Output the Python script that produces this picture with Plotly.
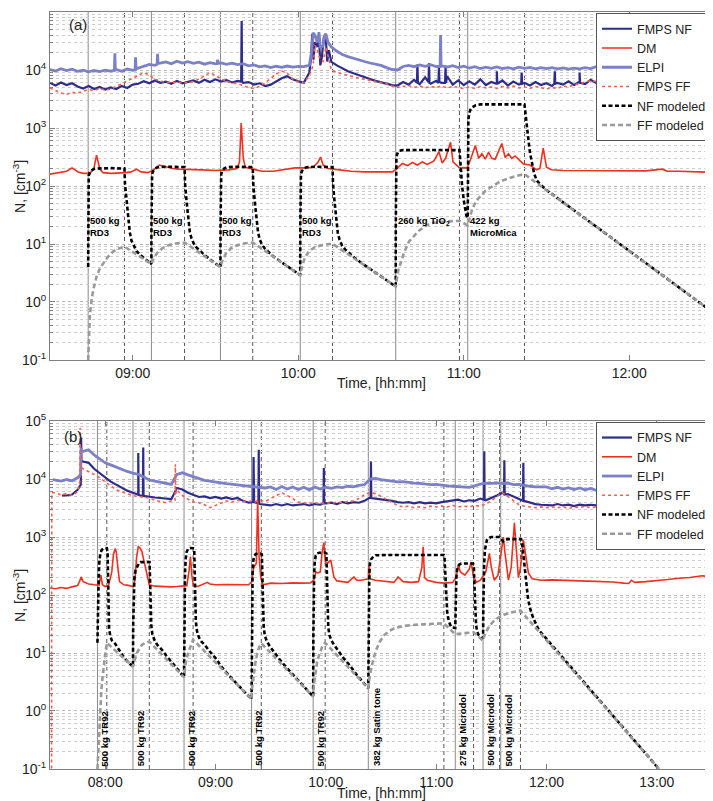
import plotly.graph_objects as go

# ------------------------------------------------------------------
# Time is in decimal hours.  Measured series are read on a regular grid
# (top panel every 2 min from 08:30, bottom panel every 3 min from 07:30)
# plus extra points (spikes / starts).
# ------------------------------------------------------------------
TOP_GRID_START, TOP_GRID_STEP_MIN = 8.5, 2
BOT_GRID_START, BOT_GRID_STEP_MIN = 7.5, 3

TOP_TICK_HOURS = [9, 10, 11, 12]
TOP_TICK_LABELS = ["09:00", "10:00", "11:00", "12:00"]
BOT_TICK_HOURS = [8, 9, 10, 11, 12, 13]
BOT_TICK_LABELS = ["08:00", "09:00", "10:00", "11:00", "12:00", "13:00"]
Y_TICK_VALUES = [0.1, 1, 10, 100, 1000, 10000, 100000]
Y_TICK_LABELS = ["10<sup>-1</sup>", "10<sup>0</sup>", "10<sup>1</sup>", "10<sup>2</sup>",
                 "10<sup>3</sup>", "10<sup>4</sup>", "10<sup>5</sup>"]

# ---------------- panel (a) events ----------------
TOP_EVENT_START = [8.7307, 9.1127, 9.530, 10.012, 10.589, 11.024]
TOP_EVENT_END = [8.950, 9.313, 9.725, 10.207, 10.974, 11.367]
TOP_EVENT_LABELS = ["500 kg<br>RD3", "500 kg<br>RD3", "500 kg<br>RD3", "500 kg<br>RD3",
                    "260 kg TiO<sub>2</sub>", "422 kg<br>MicroMica"]

# ---------------- panel (b) events ----------------
BOT_EVENT_START = [7.930, 8.252, 8.715, 9.327, 9.885, 10.385, 11.173, 11.425, 11.585]
BOT_EVENT_END = [8.015, 8.400, 8.797, 9.415, 9.994, 11.070, 11.339, 11.575, 11.764]
BOT_EVENT_LABELS = ["500 kg TR92", "500 kg TR92", "500 kg TR92", "500 kg TR92", "500 kg TR92",
                    "382 kg Satin tone", "275 kg Microdol", "500 kg Microdol", "500 kg Microdol"]

# ---------------- panel (a) measured ----------------
ELPI_TOP = [10200, 9600, 10500, 9800, 10300, 9500,
            9900, 9300, 9800, 9400, 9900,
            9600, 10200, 9500, 10400, 9900,
            10800, 11500, 12500, 12000, 13200,
            13800, 12800, 14200, 13200, 13900,
            13000, 13600, 12600, 13400, 12800,
            13300, 12500, 13100, 12400, 12900,
            11800, 12200, 11300, 11800, 11000,
            11600, 11100, 11700, 11200, 11500,
            11400, 12000, 40000, 24000, 42000,
            25000, 21000, 18500, 17000, 15800,
            14800, 14000, 13200, 12600, 12000,
            11000, 10200, 10000, 11500, 12000,
            11400, 12200, 11600, 12300, 11500,
            11800, 11200, 11900, 11000, 11600,
            10800, 11400, 10600, 11200, 10700,
            11300, 10600, 11000, 10500, 11200,
            10700, 11100, 10500, 11000, 10600,
            11000, 10500, 10900, 10400, 10800,
            10500, 11000, 10600, 11400, 10800,
            11200, 10700, 11300, 10900, 11500,
            11000, 11800, 11200, 12000, 11500,
            12200, 11600, 12400, 11800, 12300,
            11900, 12500, 12000, 12600, 12200]
ELPI_TOP_EXTRA_T = [8.889, 8.892, 8.895, 9.014, 9.017, 9.020, 9.147, 9.150, 9.153, 9.510, 9.513, 9.516,
                    10.080, 10.090, 10.115, 10.125, 10.150, 10.160, 10.180, 10.857, 10.860, 10.863]
ELPI_TOP_EXTRA_V = [10000, 19500, 10000, 10000, 16600, 10500, 12500, 19000, 13000, 13000, 15000, 13000,
                    20000, 44000, 30000, 45000, 26000, 40000, 30000, 11500, 40000, 11500]

FMPS_NF_TOP = [6000, 5400, 6100, 5500, 5900, 5200,
               4800, 5300, 4700, 5100, 4600,
               5000, 4700, 5300, 4900, 5600,
               5800, 6400, 5900, 6600, 6000,
               6300, 5800, 6500, 5900, 6200,
               6600, 6000, 6800, 6200, 6900,
               6300, 6700, 6100, 6500, 6000,
               6200, 5600, 5900, 5300, 5600,
               6400, 7200, 7800, 6900, 6400,
               6000, 9000, 30000, 12000, 35000,
               13800, 12000, 10500, 9500, 8800,
               8100, 7400, 7000, 6500, 6100,
               5700, 5500, 5400, 6200, 5600,
               6800, 5700, 7500, 5800, 6500,
               6000, 7800, 5600, 6600, 5500,
               6400, 5600, 6900, 5500, 6200,
               5700, 6600, 5400, 6300, 5600,
               6000, 5400, 6200, 5500, 5900,
               5300, 6000, 5600, 6400, 5500,
               6300, 5700, 6800, 6000, 7000,
               6200, 6600, 5900, 6300, 5600,
               6100, 5500, 6000, 5700, 6300,
               6000, 6700, 6200, 6900, 6400,
               7000, 6500, 7300, 6800, 7200]
FMPS_NF_TOP_EXTRA_T = [9.655, 9.658, 9.661,
                       10.075, 10.085, 10.092, 10.115, 10.125, 10.142, 10.155, 10.175, 10.185,
                       10.717, 10.720, 10.723, 10.787, 10.790, 10.793, 10.847, 10.850, 10.853,
                       10.887, 10.890, 10.893, 11.197, 11.200, 11.203, 11.347, 11.350, 11.353,
                       11.547, 11.550, 11.553, 11.697, 11.700, 11.703]
FMPS_NF_TOP_EXTRA_V = [6300, 70000, 6200,
                       14000, 42000, 15000, 25000, 40000, 16000, 38000, 14000, 22000,
                       6000, 12500, 6000, 6200, 13000, 6000, 6000, 11000, 6200,
                       6000, 12000, 6000, 5800, 9500, 5800, 5800, 9000, 5800,
                       5800, 9500, 5800, 6200, 9000, 6000]

FMPS_FF_TOP = [4900, 4400, 4000, 3800, 4100, 4000,
               4300, 4600, 4400, 4800, 4500,
               4700, 5200, 5800, 6500, 7200,
               8000, 9000, 8200, 7000, 6400,
               6200, 6000, 6300, 5900, 6100,
               6300, 7000, 8000, 9000, 8000,
               7000, 6300, 6000, 5800, 5400,
               5000, 4800, 5200, 6000, 7200,
               8500, 9600, 8800, 7000, 6200,
               6000, 8000, 27000, 15000, 25000,
               10000, 9000, 8500, 8000, 7500,
               7200, 6900, 6600, 6400, 6200,
               5800, 5300, 5000, 5200, 5400,
               5000, 5300, 4900, 5200, 5000,
               5300, 4900, 5200, 5000, 4800,
               5100, 4800, 5200, 4900, 5100,
               4800, 5200, 4900, 5300, 4900,
               5100, 4800, 5200, 5000, 4700,
               5000, 4800, 5300, 5100, 5600,
               5800, 6200, 6600, 6300, 6800,
               6400, 6000, 5600, 5300, 5600,
               5400, 5800, 6200, 6600, 7000,
               6700, 7100, 6800, 7200, 6900,
               7100, 6800, 7300, 7000, 7200]
FMPS_FF_TOP_EXTRA_T = [10.090, 10.115, 10.150, 10.175]
FMPS_FF_TOP_EXTRA_V = [12000, 22000, 14000, 20000]

DM_TOP_T = [8.50, 8.55, 8.60, 8.633, 8.67, 8.70, 8.74, 8.765, 8.781, 8.80,
            8.82, 8.87, 8.92, 8.96, 8.99, 9.023, 9.05, 9.09, 9.12, 9.16,
            9.20, 9.24, 9.28, 9.35, 9.42, 9.50, 9.58, 9.63, 9.645, 9.655,
            9.668, 9.68, 9.72, 9.78, 9.85, 9.92, 9.98, 10.04, 10.09, 10.12,
            10.135, 10.15, 10.18, 10.25, 10.32, 10.40, 10.50, 10.57, 10.60, 10.63,
            10.66, 10.69, 10.72, 10.75, 10.78, 10.82, 10.85, 10.87, 10.89, 10.92,
            10.935, 10.95, 10.97, 10.99, 11.02, 11.04, 11.07, 11.09, 11.11, 11.13,
            11.15, 11.17, 11.19, 11.23, 11.25, 11.27, 11.29, 11.31, 11.33, 11.36,
            11.40, 11.44, 11.46, 11.48, 11.50, 11.53, 11.60, 11.70, 11.80, 11.90,
            12.00, 12.10, 12.20, 12.23, 12.30, 12.40, 12.50]
DM_TOP_V = [160, 170, 180, 205, 175, 165, 165, 200, 340, 200,
            170, 165, 165, 170, 175, 195, 175, 170, 185, 230,
            215, 200, 195, 195, 190, 185, 190, 200, 260, 1220,
            300, 210, 195, 180, 180, 190, 205, 205, 210, 260,
            315, 230, 200, 190, 180, 175, 172, 175, 205, 245,
            225, 255, 230, 260, 235, 270, 390, 250, 300, 570,
            260, 240, 210, 205, 205, 280, 500, 300, 360, 290,
            380, 300, 290, 540, 310, 360, 300, 330, 290, 240,
            230, 190, 200, 450, 210, 190, 185, 185, 180, 185,
            180, 182, 195, 180, 180, 178, 172]

# ---------------- panel (a) modeled ----------------
NF_MOD_TOP_T = [8.7307, 8.7312, 8.7320, 8.734, 8.740, 8.750, 8.765, 8.781, 8.870, 8.950,
                8.953, 8.962, 8.972, 8.982, 8.992, 9.007, 9.022, 9.042, 9.062, 9.090, 9.1127,
                9.1130, 9.1135, 9.1145, 9.117, 9.123, 9.135, 9.150, 9.200, 9.313,
                9.316, 9.325, 9.335, 9.345, 9.355, 9.370, 9.385, 9.405, 9.430, 9.460, 9.530,
                9.5303, 9.531, 9.532, 9.5345, 9.540, 9.552, 9.567, 9.620, 9.725,
                9.728, 9.737, 9.747, 9.757, 9.767, 9.782, 9.800, 9.825, 9.850, 9.880, 10.012,
                10.0123, 10.013, 10.014, 10.0165, 10.022, 10.034, 10.050, 10.100, 10.207,
                10.210, 10.219, 10.229, 10.239, 10.249, 10.264, 10.284, 10.310, 10.340, 10.380, 10.589,
                10.5893, 10.590, 10.591, 10.593, 10.597, 10.603, 10.612, 10.630, 10.800, 10.974,
                10.978, 10.983, 10.990, 11.000, 11.008, 11.016, 11.024,
                11.0243, 11.025, 11.026, 11.028, 11.033, 11.040, 11.050, 11.070, 11.100, 11.200, 11.300, 11.367,
                11.372, 11.380, 11.391, 11.400, 11.411, 11.425, 11.440, 11.460, 11.500, 12.500]
NF_MOD_TOP_V = [4, 40, 110, 150, 170, 185, 196, 200, 203, 200,
                110, 57, 26, 16, 11.5, 9.0, 7.6, 6.6, 5.9, 5.0, 4.5,
                20, 70, 130, 160, 180, 200, 210, 215, 212,
                110, 55, 26, 16, 12.5, 10, 8.7, 7.6, 6.6, 5.6, 4.0,
                20, 70, 130, 160, 180, 200, 210, 215, 212,
                110, 55, 26, 16, 12, 9.6, 8.2, 7.0, 6.1, 5.3, 2.9,
                20, 70, 130, 160, 180, 200, 210, 215, 212,
                110, 55, 26, 15.5, 12, 9.5, 8.0, 6.8, 5.8, 4.75, 1.85,
                20, 80, 200, 300, 350, 385, 405, 415, 418, 415,
                300, 180, 100, 57, 38, 31, 28,
                100, 400, 900, 1400, 1800, 2050, 2250, 2450, 2550, 2580, 2560, 2550,
                1800, 1100, 615, 380, 250, 165, 126, 108, 85, 0.68]

FF_MOD_TOP_T = [8.7307, 8.735, 8.741, 8.751, 8.761, 8.781, 8.800, 8.821, 8.850, 8.881, 8.910, 8.950,
                9.1127, 9.125, 9.150, 9.180, 9.220, 9.260, 9.313,
                9.530, 9.542, 9.565, 9.595, 9.630, 9.670, 9.725,
                10.012, 10.022, 10.040, 10.065, 10.100, 10.150, 10.207,
                10.589, 10.595, 10.605, 10.618, 10.640, 10.669, 10.700, 10.729, 10.770, 10.809, 10.890, 10.974,
                11.024, 11.035, 11.050, 11.070, 11.090, 11.130, 11.170, 11.220, 11.271, 11.320, 11.367,
                12.500]
FF_MOD_TOP_V = [0.1, 0.35, 0.6, 1.07, 1.6, 2.73, 3.7, 4.6, 6.0, 7.4, 8.3, 9.0,
                4.5, 5.6, 7.2, 8.5, 9.6, 10.2, 10.6,
                4.0, 5.2, 7.0, 8.5, 9.5, 10.2, 10.6,
                2.9, 4.0, 5.8, 7.5, 8.8, 9.7, 10.1,
                1.85, 2.6, 3.6, 4.6, 7.2, 11, 14, 17, 20.5, 23, 24.5, 25,
                21, 28, 39, 52, 62, 82, 98, 120, 135, 150, 160,
                0.68]

# ---------------- panel (b) measured ----------------
ELPI_BOT = [None, 9600, 9200, 9800, 9300, 10500, 30000, 32000, 26000, 22000,
            19000, 17500, 16000, 14500, 13500, 12600, 12000, 10800, 9600, 9200,
            8800, 8500, 8100, 12000, 12800, 11800, 11000, 10000, 9500, 9200,
            8800, 8600, 8300, 8000, 7900, 7700, 7500, 7400, 7200, 7000,
            7300, 6600, 7400, 6700, 7300, 6600, 7200, 6500, 7300, 6700,
            7200, 6900, 7300, 7100, 7500, 7300, 7800, 8000, 10000, 10200,
            9800, 9400, 9200, 8900, 9000, 8700, 8500, 8400, 8200, 8000,
            8100, 7800, 7600, 7500, 7400, 7300, 7200, 7600, 8200, 8500,
            8400, 8600, 8300, 8500, 8000, 8100, 7700, 7500, 7300, 7200,
            7300, 6800, 7200, 6700, 7100, 6600, 7000, 6500, 6900, 6400,
            6800, 6300, 6700, 6300, 6600, 6200, 6600, 6300, 6700, 6400,
            6800, 6500, 6900, 6600, 7000, 6700, 7100, 6800, 7200, 6900,
            7100]
ELPI_BOT_EXTRA_T = [7.527, 7.778, 7.782, 7.786]
ELPI_BOT_EXTRA_V = [9800, 12000, 35000, 30000]

FMPS_NF_BOT = [None, None, None, 5200, 5400, 6500, 20000, 19000, 15000, 12500,
               10500, 9000, 8000, 7000, 6300, 5800, 5400, 5100, 4900, 4800,
               4700, 4600, 4500, 7000, 6600, 5800, 5300, 4900, 5000, 4700,
               4900, 4600, 4800, 4500, 4700, 4200, 3900, 4000, 3700, 3600,
               3500, 3700, 3500, 3700, 3500, 3600, 3700, 3500, 3700, 3600,
               3800, 3900, 3700, 4000, 3800, 4000, 3900, 4200, 4800, 4600,
               4500, 4400, 4200, 4000, 3900, 4000, 3800, 4000, 3800, 3900,
               3800, 4000, 4100, 4200, 4400, 4100, 4300, 4200, 4600, 4300,
               4700, 5200, 5800, 5500, 5000, 4600, 4200, 3900, 3700, 3600,
               3600, 3500, 3700, 3500, 3600, 3400, 3600, 3500, 3600, 3500,
               3600, 3700, 3600, 3700, 3800, 3700, 3800, 3700, 3900, 3800,
               3900, 3800, 4000, 3900, 4100, 4000, 4300, 4200, 4500, 4800,
               5200]
FMPS_NF_BOT_EXTRA_T = [7.609, 7.779, 7.782, 7.785, 8.297, 8.300, 8.303, 8.342, 8.345, 8.348,
                       9.342, 9.345, 9.348, 9.389, 9.392, 9.395, 9.979, 9.982, 9.985,
                       10.406, 10.409, 10.412, 11.433, 11.436, 11.439, 11.615, 11.618, 11.621,
                       11.787, 11.790, 11.793]
FMPS_NF_BOT_EXTRA_V = [5200, 8000, 52000, 20000, 5400, 28000, 5300, 5100, 35000, 5000,
                       4000, 24000, 4000, 3800, 32000, 3800, 3800, 15500, 3800,
                       4700, 20000, 4700, 4400, 30000, 4400, 5500, 21000, 5400,
                       4200, 19000, 4100]

FMPS_FF_BOT = [None, 5800, 5300, 5600, 5200, 6000, 15000, 13500, 12000, 10500,
               9000, 7500, 6500, 6000, 5500, 5200, 5000, 4800, 4700, 4300,
               4100, 3900, 4200, 6500, 5200, 4500, 4000, 3900, 3600, 3200,
               3500, 3800, 4200, 4000, 4300, 4100, 4200, 4000, 4300, 4100,
               4600, 5200, 5800, 5200, 4500, 4000, 3900, 3800, 3900, 3700,
               3900, 3800, 4000, 3900, 4100, 4200, 4600, 5400, 5800, 5600,
               5000, 4400, 3900, 3500, 3300, 3400, 3200, 3300, 3200, 3400,
               3300, 3400, 3300, 3500, 3300, 3400, 3300, 3500, 3400, 3700,
               4200, 5000, 5800, 5000, 4200, 3600, 3400, 3300, 3200, 3300,
               3200, 3300, 3200, 3300, 3100, 3300, 3200, 3400, 3200, 3300,
               3300, 3400, 3300, 3500, 3400, 3600, 3500, 3600, 3500, 3700,
               3600, 3500, 3700, 3600, 3800, 3700, 3600, 3800, 3700, 3900,
               3800]
FMPS_FF_BOT_EXTRA_T = [7.514, 7.516, 7.770, 7.773, 7.776, 8.633, 8.636, 8.639]
FMPS_FF_BOT_EXTRA_V = [0.05, 5800, 9000, 76000, 16000, 4300, 18000, 5500]

DM_BOT_T = [7.50, 7.55, 7.60, 7.65, 7.70, 7.75, 7.77, 7.782, 7.80, 7.82,
            7.85, 7.90, 7.945, 7.961, 7.975, 8.00, 8.03, 8.06, 8.075, 8.09,
            8.10, 8.115, 8.13, 8.17, 8.20, 8.255, 8.27, 8.285, 8.30, 8.315,
            8.333, 8.35, 8.379, 8.40, 8.45, 8.50, 8.55, 8.60, 8.65, 8.70,
            8.74, 8.76, 8.773, 8.785, 8.80, 8.84, 8.88, 8.927, 8.95, 9.00,
            9.10, 9.20, 9.30, 9.33, 9.345, 9.37, 9.382, 9.395, 9.41, 9.43,
            9.50, 9.60, 9.70, 9.80, 9.86, 9.891, 9.91, 9.927, 9.95, 9.965,
            9.982, 9.995, 10.018, 10.045, 10.073, 10.10, 10.15, 10.20, 10.255, 10.28,
            10.318, 10.385, 10.39, 10.40, 10.45, 10.50, 10.55, 10.618, 10.655, 10.70,
            10.773, 10.84, 10.87, 10.882, 10.895, 10.92, 11.00, 11.07, 11.15, 11.18,
            11.20, 11.22, 11.26, 11.30, 11.318, 11.335, 11.364, 11.40, 11.45, 11.482,
            11.50, 11.527, 11.56, 11.59, 11.609, 11.625, 11.655, 11.68, 11.70, 11.709,
            11.72, 11.745, 11.765, 11.79, 11.81, 11.836, 11.87, 11.95, 12.05, 12.15,
            12.30, 12.45, 12.60, 12.70, 12.745, 12.77, 12.80, 12.90, 13.00, 13.10,
            13.20, 13.30, 13.41, 13.50]
DM_BOT_V = [132, 128, 135, 130, 138, 145, 175, 205, 170, 165,
            155, 150, 148, 220, 150, 140, 145, 250, 500, 630,
            560, 300, 170, 150, 148, 140, 180, 450, 680, 650,
            560, 400, 210, 150, 142, 140, 140, 138, 140, 142,
            145, 260, 460, 220, 145, 140, 150, 165, 155, 150,
            152, 150, 150, 170, 300, 350, 4400, 460, 200, 150,
            160, 158, 162, 160, 162, 180, 250, 240, 250, 520,
            800, 380, 355, 400, 205, 175, 170, 165, 205, 180,
            180, 190, 330, 190, 180, 175, 170, 165, 205, 170,
            165, 170, 300, 680, 200, 180, 165, 160, 165, 200,
            330, 250, 220, 280, 370, 220, 165, 180, 250, 520,
            300, 180, 220, 600, 1000, 500, 180, 300, 1000, 1750,
            900, 200, 300, 890, 500, 240, 190, 180, 182, 178,
            175, 172, 168, 160, 158, 180, 165, 170, 180, 185,
            195, 200, 215, 205]

# ---------------- panel (b) modeled ----------------
NF_MOD_BOT_T = [7.930, 7.932, 7.936, 7.941, 7.948, 7.958, 7.970, 7.985, 8.000, 8.015, 8.022,
                8.025, 8.028, 8.031, 8.035, 8.045, 8.060, 8.090, 8.130, 8.166, 8.200, 8.252,
                8.254, 8.258, 8.265, 8.276, 8.288, 8.305, 8.320, 8.380, 8.402,
                8.405, 8.408, 8.412, 8.418, 8.428, 8.445, 8.470, 8.500, 8.530, 8.560, 8.620, 8.715,
                8.717, 8.720, 8.724, 8.730, 8.738, 8.750, 8.770, 8.797, 8.807,
                8.810, 8.813, 8.817, 8.822, 8.832, 8.850, 8.875, 8.900, 8.950, 9.000, 9.050, 9.100, 9.150, 9.327,
                9.329, 9.332, 9.336, 9.342, 9.350, 9.365, 9.410, 9.420,
                9.423, 9.427, 9.431, 9.437, 9.447, 9.465, 9.490, 9.530, 9.580, 9.640, 9.885,
                9.887, 9.890, 9.894, 9.900, 9.908, 9.920, 9.940, 9.990, 10.005,
                10.008, 10.012, 10.016, 10.022, 10.032, 10.050, 10.075, 10.110, 10.160, 10.220, 10.280, 10.385,
                10.387, 10.390, 10.394, 10.400, 10.409, 10.430, 10.455, 10.600, 11.070, 11.075,
                11.080, 11.086, 11.092, 11.100, 11.115, 11.136, 11.173,
                11.175, 11.178, 11.183, 11.190, 11.197, 11.210, 11.227, 11.334, 11.342,
                11.346, 11.350, 11.355, 11.362, 11.372, 11.385, 11.400, 11.425,
                11.427, 11.430, 11.435, 11.442, 11.450, 11.460, 11.475, 11.500, 11.575,
                11.590, 11.606, 11.625, 11.650, 11.770, 11.780, 11.790, 11.803, 11.818, 11.833,
                11.850, 11.870, 11.900, 11.930, 13.020]
NF_MOD_BOT_V = [15, 40, 90, 200, 400, 540, 600, 635, 645, 640, 560,
                250, 100, 45, 28, 20, 16.5, 14.5, 11, 8.6, 7.2, 5.8,
                30, 100, 200, 270, 310, 350, 368, 372, 370,
                250, 120, 55, 30, 21, 17, 14, 12.3, 10.5, 8.6, 6.4, 3.8,
                30, 100, 250, 420, 550, 620, 645, 640, 630,
                350, 150, 60, 35, 24, 18.5, 15.5, 14, 10.5, 8.2, 5.9, 4.6, 3.6, 1.6,
                20, 90, 230, 380, 470, 510, 520, 500,
                300, 120, 50, 28, 20, 16, 13.2, 10.3, 7.8, 5.7, 1.77,
                20, 90, 230, 380, 470, 520, 535, 540, 520,
                300, 120, 50, 28, 20.5, 16.5, 13.8, 11, 8.2, 6.0, 4.2, 2.46,
                20, 90, 220, 350, 410, 460, 485, 490, 490, 470,
                300, 150, 80, 50, 35, 28, 27,
                60, 120, 200, 270, 310, 335, 348, 350, 300,
                160, 80, 45, 30, 23, 20.5, 19.5, 18,
                60, 150, 350, 600, 780, 890, 960, 1000, 1000,
                900, 840, 900, 920, 920, 750, 500, 270, 140, 85,
                60, 45, 33, 25, 0.1]

FF_MOD_BOT_T = [7.930, 7.940, 7.948, 7.955, 7.965, 7.975, 7.985, 8.000, 8.015,
                8.252, 8.262, 8.275, 8.288, 8.310, 8.334, 8.365, 8.400,
                8.715, 8.722, 8.730, 8.742, 8.757, 8.773, 8.797,
                9.327, 9.333, 9.340, 9.348, 9.360, 9.379, 9.395, 9.415,
                9.885, 9.891, 9.900, 9.909, 9.920, 9.939, 9.965, 9.994,
                10.385, 10.392, 10.400, 10.409, 10.430, 10.455, 10.490, 10.530, 10.575, 10.621,
                10.700, 10.773, 10.924, 11.070,
                11.173, 11.200, 11.250, 11.339,
                11.425, 11.435, 11.450, 11.470, 11.500, 11.530, 11.575,
                11.585, 11.620, 11.680, 11.764,
                13.020]
FF_MOD_BOT_V = [0.1, 0.3, 0.65, 1.04, 2.2, 3.6, 5.8, 9.5, 15,
                5.8, 7.2, 8.8, 10, 12, 13.9, 15, 15.7,
                3.8, 5.2, 6.6, 8.6, 10.8, 12.8, 17,
                1.6, 2.6, 3.5, 4.5, 6.5, 10, 12.5, 14.7,
                1.77, 2.7, 3.9, 5.1, 6.8, 9.2, 12.5, 15,
                2.46, 3.3, 4.2, 5.1, 7.8, 11.2, 15.8, 20.4, 24, 26.7,
                29, 30.3, 31.6, 32.5,
                21, 21.5, 22, 22.7,
                16.3, 19.5, 23, 26.7, 32, 37, 42,
                42.5, 46, 50, 54,
                0.1]

# ------------------------------------------------------------------
FONT = "Liberation Sans, Arial, sans-serif"
AX_GRAY = "#7f7f7f"
C_NF = "#2d2c8a"
C_DM = "#f0301e"
C_ELPI = "#7c80c6"
C_FF = "#f2604e"


def merged(start, step_min, grid_vals, extra_t, extra_v):
    t = [start + k * step_min / 60.0 for k in range(len(grid_vals))]
    pts = sorted(zip(t + list(extra_t), list(grid_vals) + list(extra_v)), key=lambda p: p[0])
    return [p[0] for p in pts], [p[1] for p in pts]


fig = go.Figure()


def add_panel(xa, ya, leg, nf, dm, elpi, ff, nfm, ffm):
    common = dict(xaxis=xa, yaxis=ya, legend=leg, mode="lines", connectgaps=False)
    fig.add_trace(go.Scatter(x=nf[0], y=nf[1], name="FMPS NF",
                             line=dict(color=C_NF, width=2.2), **common))
    fig.add_trace(go.Scatter(x=dm[0], y=dm[1], name="DM",
                             line=dict(color=C_DM, width=1.6), **common))
    fig.add_trace(go.Scatter(x=elpi[0], y=elpi[1], name="ELPI",
                             line=dict(color=C_ELPI, width=2.8), **common))
    fig.add_trace(go.Scatter(x=ff[0], y=ff[1], name="FMPS FF",
                             line=dict(color=C_FF, width=1.6, dash="dot"), **common))
    fig.add_trace(go.Scatter(x=nfm[0], y=nfm[1], name="NF modeled",
                             line=dict(color="black", width=2.6, dash="4px,2.5px"), **common))
    fig.add_trace(go.Scatter(x=ffm[0], y=ffm[1], name="FF modeled",
                             line=dict(color="#9a9a9a", width=2.6, dash="5px,3px"), **common))


add_panel("x", "y", "legend",
          merged(TOP_GRID_START, TOP_GRID_STEP_MIN, FMPS_NF_TOP, FMPS_NF_TOP_EXTRA_T, FMPS_NF_TOP_EXTRA_V),
          (DM_TOP_T, DM_TOP_V),
          merged(TOP_GRID_START, TOP_GRID_STEP_MIN, ELPI_TOP, ELPI_TOP_EXTRA_T, ELPI_TOP_EXTRA_V),
          merged(TOP_GRID_START, TOP_GRID_STEP_MIN, FMPS_FF_TOP, FMPS_FF_TOP_EXTRA_T, FMPS_FF_TOP_EXTRA_V),
          (NF_MOD_TOP_T, NF_MOD_TOP_V), (FF_MOD_TOP_T, FF_MOD_TOP_V))
add_panel("x2", "y2", "legend2",
          merged(BOT_GRID_START, BOT_GRID_STEP_MIN, FMPS_NF_BOT, FMPS_NF_BOT_EXTRA_T, FMPS_NF_BOT_EXTRA_V),
          (DM_BOT_T, DM_BOT_V),
          merged(BOT_GRID_START, BOT_GRID_STEP_MIN, ELPI_BOT, ELPI_BOT_EXTRA_T, ELPI_BOT_EXTRA_V),
          merged(BOT_GRID_START, BOT_GRID_STEP_MIN, FMPS_FF_BOT, FMPS_FF_BOT_EXTRA_T, FMPS_FF_BOT_EXTRA_V),
          (NF_MOD_BOT_T, NF_MOD_BOT_V), (FF_MOD_BOT_T, FF_MOD_BOT_V))

# event lines
for xa, ya, starts, ends in (("x", "y", TOP_EVENT_START, TOP_EVENT_END),
                             ("x2", "y2", BOT_EVENT_START, BOT_EVENT_END)):
    for s in starts:
        fig.add_shape(type="line", xref=xa, yref=ya + " domain", x0=s, x1=s, y0=0, y1=1,
                      line=dict(color="#8a8a8a", width=1), layer="below")
    for e in ends:
        fig.add_shape(type="line", xref=xa, yref=ya + " domain", x0=e, x1=e, y0=0, y1=1,
                      line=dict(color="#555555", width=1, dash="4px,3px"), layer="below")

# event labels
ann_font = dict(family=FONT, size=9.5, color="black")
for s, lab in zip(TOP_EVENT_START, TOP_EVENT_LABELS):
    fig.add_annotation(x=s, y=1.52, xref="x", yref="y", text="<b>" + lab + "</b>",
                       showarrow=False, xanchor="left", yanchor="top", align="left",
                       xshift=1, font=ann_font, borderpad=0)
for s, lab in zip(BOT_EVENT_START, BOT_EVENT_LABELS):
    fig.add_annotation(x=s, y=-0.97, xref="x2", yref="y2", text="<b>" + lab + "</b>",
                       showarrow=False, xanchor="left", yanchor="bottom", textangle=-90,
                       xshift=1, font=ann_font, borderpad=0)

title_font = dict(family=FONT, size=15, color="#222")
fig.add_annotation(x=0.025, y=0.965, xref="x domain", yref="y domain", text="(a)",
                   showarrow=False, xanchor="left", yanchor="middle", font=title_font)
fig.add_annotation(x=0.018, y=0.955, xref="x2 domain", yref="y2 domain", text="(b)",
                   showarrow=False, xanchor="left", yanchor="middle", font=title_font)

# axis titles (placed as paper annotations so margins stay fixed)
TOP_DOM = [0.5403, 1.0]
BOT_DOM = [0.0, 0.4597]
for dom, ytitle in ((TOP_DOM, 0.5095), (BOT_DOM, -0.0315)):
    fig.add_annotation(x=0.5, y=ytitle, xref="paper", yref="paper", text="Time, [hh:mm]",
                       showarrow=False, xanchor="center", yanchor="middle",
                       font=dict(family=FONT, size=14, color="#222"))
    fig.add_annotation(x=-0.0635, y=(dom[0] + dom[1]) / 2, xref="paper", yref="paper",
                       text="N, [cm<sup>-3</sup>]", textangle=-90, showarrow=False,
                       xanchor="left", yanchor="middle",
                       font=dict(family=FONT, size=14, color="#222"))

minor_vals = [m * 10.0 ** e for e in range(-1, 5) for m in range(2, 10)]


def xaxis_cfg(rng, tv, tt, anchor):
    return dict(range=rng, tickvals=tv, ticktext=tt, anchor=anchor, domain=[0, 1],
                ticks="inside", ticklen=5, tickcolor=AX_GRAY, showline=True, linecolor=AX_GRAY,
                linewidth=1, mirror="ticks", showgrid=False, zeroline=False, automargin=False,
                tickfont=dict(family=FONT, size=14, color="#222"))


def yaxis_cfg(dom, anchor):
    return dict(type="log", range=[-1, 5], domain=dom, anchor=anchor,
                tickvals=Y_TICK_VALUES, ticktext=Y_TICK_LABELS, automargin=False,
                ticks="inside", ticklen=5, tickcolor=AX_GRAY, showline=True, linecolor=AX_GRAY,
                linewidth=1, mirror="ticks", zeroline=False,
                showgrid=True, gridcolor="#b8b8b8", griddash="dot", gridwidth=1,
                minor=dict(tickvals=minor_vals, ticks="inside", ticklen=3, tickcolor=AX_GRAY,
                           showgrid=True, gridcolor="#cdcdcd", griddash="dot", gridwidth=1),
                tickfont=dict(family=FONT, size=14, color="#222"))


leg_common = dict(xanchor="right", yanchor="top", x=1.0, bgcolor="white",
                  bordercolor="#555", borderwidth=1, itemwidth=30, tracegroupgap=0,
                  font=dict(family=FONT, size=12.5, color="#222"))

# The page body adds an 8 px offset, so the figure is 8 px smaller than the window.
fig.update_layout(
    width=705, height=793,
    margin=dict(l=42, r=1, t=4, b=32, autoexpand=False),
    paper_bgcolor="white", plot_bgcolor="white",
    font=dict(family=FONT, color="#222"),
    xaxis=xaxis_cfg([8.5, 12.5], TOP_TICK_HOURS, TOP_TICK_LABELS, "y"),
    yaxis=yaxis_cfg(TOP_DOM, "x"),
    xaxis2=xaxis_cfg([7.5, 13.5], BOT_TICK_HOURS, BOT_TICK_LABELS, "y2"),
    yaxis2=yaxis_cfg(BOT_DOM, "x2"),
    legend=dict(y=0.9985, **leg_common),
    legend2=dict(y=0.4585, **leg_common),
    showlegend=True,
)

fig.write_html("out.html")
